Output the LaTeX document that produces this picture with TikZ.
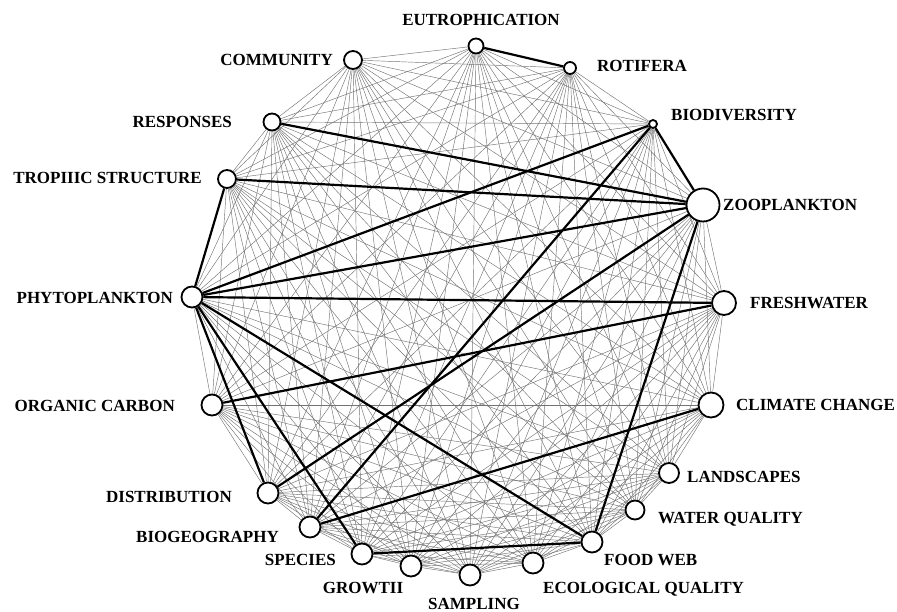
\documentclass[tikz,border=0pt]{standalone}
\usepackage{fontspec}
\setmainfont{Liberation Serif}
\usetikzlibrary{backgrounds}
\begin{document}
\begin{tikzpicture}[x=1pt,y=-1pt,
  kw/.style={circle,draw,fill=white,line width=1.8pt,inner sep=0pt,minimum size=#1},
  kwtext/.style={inner sep=0pt,text height=11.3pt,text depth=0pt,
    font=\fontsize{17}{20}\selectfont\bfseries},
  weak/.style={black!55,line width=0.45pt},
  strong/.style={black,line width=2.2pt}]
\useasboundingbox (0,0) rectangle (897,612);
% keyword circles
\node[kw=15pt] (eutro) at (476,46) {};
\node[kw=12pt] (rotif) at (570,68) {};
\node[kw=8pt] (biodiv) at (653,124) {};
\node[kw=33pt] (zoo) at (703,205) {};
\node[kw=24pt] (fresh) at (724,303) {};
\node[kw=25pt] (climate) at (711,405) {};
\node[kw=20pt] (landsc) at (669,473) {};
\node[kw=19pt] (waterq) at (635,510) {};
\node[kw=21pt] (foodweb) at (592,542) {};
\node[kw=21pt] (ecoq) at (533,563) {};
\node[kw=21pt] (sampling) at (470,575) {};
\node[kw=21pt] (growth) at (411,566) {};
\node[kw=21pt] (species) at (362,554) {};
\node[kw=21pt] (biogeo) at (310,527) {};
\node[kw=21pt] (distrib) at (268,493) {};
\node[kw=21pt] (organic) at (212,405) {};
\node[kw=21pt] (phyto) at (192,297) {};
\node[kw=18pt] (trophic) at (227,179) {};
\node[kw=17pt] (respon) at (272,122) {};
\node[kw=18pt] (commun) at (353,60) {};
% keyword labels
\node[kwtext] (eutro-t) at (481,20) {EUTROPHICATION};
\node[kwtext,anchor=west] (rotif-t) at (597,66) {ROTIFERA};
\node[kwtext,anchor=west] (biodiv-t) at (671,115) {BIODIVERSITY};
\node[kwtext,anchor=west] (zoo-t) at (723,205) {ZOOPLANKTON};
\node[kwtext,anchor=west] (fresh-t) at (750,303) {FRESHWATER};
\node[kwtext,anchor=west] (climate-t) at (736,405) {CLIMATE CHANGE};
\node[kwtext,anchor=west] (landsc-t) at (687,477) {LANDSCAPES};
\node[kwtext,anchor=west] (waterq-t) at (658,518) {WATER QUALITY};
\node[kwtext,anchor=west] (foodweb-t) at (604,560) {FOOD WEB};
\node[kwtext,anchor=west] (ecoq-t) at (543,588) {ECOLOGICAL QUALITY};
\node[kwtext] (sampling-t) at (474,604) {SAMPLING};
\node[kwtext] (growth-t) at (363,588) {GROWTII};
\node[kwtext,anchor=east] (species-t) at (336,560) {SPECIES};
\node[kwtext,anchor=east] (biogeo-t) at (279,537) {BIOGEOGRAPHY};
\node[kwtext,anchor=east] (distrib-t) at (232,497) {DISTRIBUTION};
\node[kwtext,anchor=east] (organic-t) at (175,406) {ORGANIC CARBON};
\node[kwtext,anchor=east] (phyto-t) at (173,298) {PHYTOPLANKTON};
\node[kwtext,anchor=east] (trophic-t) at (202,178) {TROPIIIC STRUCTURE};
\node[kwtext,anchor=east] (respon-t) at (232,122) {RESPONSES};
\node[kwtext,anchor=east] (commun-t) at (333,60) {COMMUNITY};
\def\keywords{eutro,rotif,biodiv,zoo,fresh,climate,landsc,waterq,foodweb,ecoq,
  sampling,growth,species,biogeo,distrib,organic,phyto,trophic,respon,commun}
\begin{pgfonlayer}{background}
% co-occurrence links
\foreach \a [count=\i] in \keywords {
  \foreach \b [count=\j] in \keywords {
    \ifnum\j>\i \draw[weak] (\a) -- (\b); \fi
  }
}
% strongest links
\foreach \a/\b in {eutro/rotif,biodiv/zoo,respon/zoo,trophic/zoo,trophic/phyto,
  phyto/biodiv,phyto/zoo,phyto/fresh,phyto/foodweb,phyto/species,phyto/distrib,
  organic/fresh,distrib/zoo,biogeo/biodiv,biogeo/climate,species/foodweb,foodweb/zoo}
  \draw[strong] (\a) -- (\b);
\end{pgfonlayer}
\end{tikzpicture}
\end{document}
